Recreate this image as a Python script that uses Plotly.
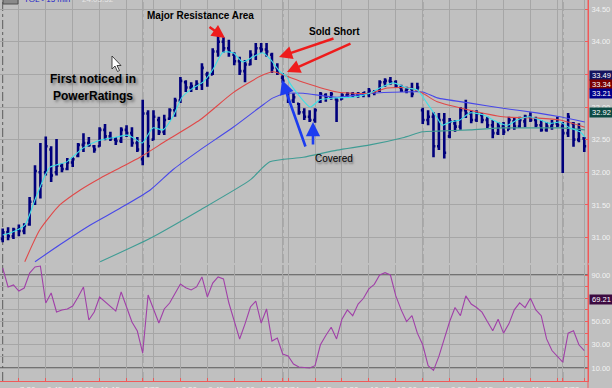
import plotly.graph_objects as go

# ---------------- data ----------------
bar_index = list(range(109))
bar_high = [31.14, 31.16, 31.15, 31.20, 31.22, 31.62, 32.11, 32.45, 32.55, 32.40,
            32.51, 32.14, 32.22, 32.23, 32.45, 32.60, 32.54, 32.42, 32.69, 32.74,
            32.62, 32.54, 32.69, 32.72, 32.69, 32.54, 33.11, 32.95, 32.95, 32.85,
            32.88, 32.98, 33.14, 33.46, 33.41, 33.38, 33.41, 33.67, 33.54, 33.90,
            34.10, 34.07, 34.03, 33.84, 33.77, 33.72, 33.87, 33.98, 33.98, 33.98,
            33.83, 33.67, 33.52, 33.29, 33.21, 33.06, 32.98, 32.95, 32.98, 33.23,
            33.21, 33.23, 33.14, 33.21, 33.23, 33.23, 33.23, 33.23, 33.29, 33.26,
            33.41, 33.44, 33.46, 33.41, 33.34, 33.31, 33.37, 33.37, 32.99, 32.95,
            32.92, 32.91, 32.91, 32.83, 32.80, 33.00, 33.11, 32.95, 32.95, 32.91,
            32.85, 32.80, 32.77, 32.77, 32.85, 32.83, 32.85, 32.88, 32.92, 32.85,
            32.80, 32.77, 32.80, 32.85, 32.77, 32.91, 32.77, 32.75, 32.54]
bar_low = [30.93, 30.96, 30.98, 31.02, 31.05, 31.18, 31.50, 31.60, 31.95, 31.85,
           31.95, 32.00, 32.03, 32.08, 32.23, 32.31, 32.39, 32.30, 32.39, 32.49,
           32.48, 32.42, 32.45, 32.54, 32.39, 32.31, 32.11, 32.23, 32.49, 32.57,
           32.57, 32.80, 32.85, 33.06, 33.23, 33.23, 33.26, 33.26, 33.31, 33.49,
           33.77, 33.83, 33.77, 33.64, 33.49, 33.38, 33.64, 33.72, 33.83, 33.77,
           33.52, 33.49, 33.37, 33.06, 33.06, 32.88, 32.80, 32.77, 32.76, 33.06,
           33.08, 33.11, 32.77, 33.11, 33.14, 33.15, 33.14, 33.15, 33.15, 33.18,
           33.23, 33.31, 33.34, 33.29, 33.23, 33.21, 33.15, 33.23, 32.74, 32.72,
           32.23, 32.34, 32.21, 32.52, 32.62, 32.65, 32.83, 32.75, 32.77, 32.75,
           32.68, 32.52, 32.57, 32.57, 32.65, 32.65, 32.68, 32.69, 32.77, 32.69,
           32.62, 32.62, 32.65, 32.69, 31.99, 32.54, 32.39, 32.46, 32.31]
bar_open = [30.98, 31.08, 31.02, 31.12, 31.10, 31.20, 31.55, 32.00, 32.00, 32.35,
            32.00, 32.10, 32.05, 32.15, 32.25, 32.42, 32.45, 32.40, 32.40, 32.65,
            32.55, 32.50, 32.48, 32.65, 32.60, 32.45, 32.20, 32.90, 32.50, 32.80,
            32.62, 32.82, 32.95, 33.10, 33.38, 33.30, 33.32, 33.35, 33.50, 33.50,
            33.85, 34.00, 33.90, 33.80, 33.70, 33.55, 33.65, 33.80, 33.90, 33.88,
            33.80, 33.60, 33.45, 33.25, 33.10, 33.05, 32.92, 32.85, 32.80, 33.08,
            33.18, 33.15, 33.12, 33.12, 33.18, 33.20, 33.18, 33.20, 33.20, 33.22,
            33.25, 33.38, 33.40, 33.38, 33.30, 33.25, 33.28, 33.25, 32.95, 32.80,
            32.85, 32.40, 32.80, 32.55, 32.75, 32.70, 32.95, 32.90, 32.80, 32.88,
            32.80, 32.72, 32.60, 32.70, 32.65, 32.78, 32.70, 32.78, 32.85, 32.80,
            32.72, 32.65, 32.70, 32.75, 32.70, 32.60, 32.75, 32.50, 32.52]
bar_close = [31.08, 31.02, 31.12, 31.10, 31.18, 31.55, 32.02, 31.80, 32.40, 31.95,
             32.10, 32.05, 32.15, 32.20, 32.42, 32.45, 32.42, 32.35, 32.65, 32.55,
             32.52, 32.48, 32.65, 32.60, 32.45, 32.35, 32.90, 32.40, 32.85, 32.62,
             32.80, 32.95, 33.10, 33.40, 33.30, 33.32, 33.35, 33.60, 33.45, 33.85,
             34.00, 33.90, 33.85, 33.70, 33.55, 33.65, 33.80, 33.90, 33.88, 33.85,
             33.60, 33.52, 33.40, 33.10, 33.15, 32.92, 32.85, 32.80, 32.95, 33.20,
             33.15, 33.20, 33.10, 33.18, 33.20, 33.18, 33.20, 33.22, 33.25, 33.24,
             33.38, 33.40, 33.38, 33.32, 33.25, 33.28, 33.20, 33.30, 32.80, 32.85,
             32.40, 32.80, 32.30, 32.78, 32.70, 32.95, 32.90, 32.80, 32.90, 32.80,
             32.72, 32.60, 32.70, 32.62, 32.80, 32.70, 32.80, 32.85, 32.80, 32.72,
             32.65, 32.70, 32.75, 32.72, 32.60, 32.85, 32.50, 32.65, 32.40]

# moving-average lines (bar position, price)
cyan_x = [0, 1.4, 4.1, 6, 7.9, 8.8, 11.9, 14.9, 18, 21.2, 23.1, 24.2, 25.9, 27.9, 29.8,
          31.6, 33.3, 35.3, 37.2, 39, 40.9, 42.8, 44.6, 46.5, 48.3, 49.6, 51.5, 52.8,
          53.3, 54.7, 57.1, 58.9, 62.1, 65.1, 68.2, 70, 72.5, 75.1, 77, 78.8, 80.7,
          81.6, 83.1, 84.9, 86.8, 89.2, 91.8, 93.7, 95.5, 97.9, 99.8, 101.6, 103.5,
          105.3, 107.2, 108.1]
cyan_y = [31.04, 31.07, 31.19, 31.58, 31.96, 32.08, 32.16, 32.37, 32.49, 32.54, 32.57,
          32.53, 32.45, 32.68, 32.65, 32.85, 33.15, 33.29, 33.38, 33.57, 33.84, 33.83,
          33.69, 33.77, 33.83, 33.74, 33.54, 33.46, 33.37, 33.21, 33.00, 33.11, 33.14,
          33.15, 33.21, 33.29, 33.37, 33.29, 33.26, 33.06, 32.83, 32.72, 32.77, 32.80,
          32.91, 32.88, 32.77, 32.72, 32.80, 32.85, 32.80, 32.75, 32.77, 32.68, 32.62,
          32.54]
red_x = [4.1, 6.9, 10.6, 14.4, 18.1, 21.8, 25.5, 30.5, 36.6, 42.8, 47.8, 50.2, 52.8,
         55.8, 62.1, 68.2, 71.4, 75.6, 78, 80.7, 86.8, 92.9, 99.2, 103.5, 108.1]
red_y = [30.63, 31.12, 31.50, 31.73, 31.91, 32.07, 32.23, 32.49, 32.80, 33.22, 33.47,
         33.54, 33.47, 33.38, 33.23, 33.21, 33.29, 33.29, 33.21, 33.08, 32.95, 32.85,
         32.83, 32.80, 32.69]
blue_x = [6, 10.6, 16.2, 21.8, 27.4, 31.6, 36.6, 42.8, 47.8, 50.2, 52.8, 55.8, 62.1,
          68.2, 74.3, 78, 80.7, 86.8, 92.9, 99.2, 103.5, 108.1]
blue_y = [30.63, 30.89, 31.19, 31.45, 31.73, 32.04, 32.34, 32.69, 33.00, 33.14, 33.21,
          33.21, 33.15, 33.21, 33.23, 33.23, 33.14, 33.06, 32.98, 32.91, 32.85, 32.77]
teal_x = [18.1, 27.4, 36.6, 45.9, 49.6, 55.8, 62.1, 68.2, 74.3, 78, 80.7, 86.8, 92.9,
          99.2, 103.5, 108.1]
teal_y = [30.63, 30.99, 31.42, 31.88, 32.16, 32.23, 32.34, 32.42, 32.53, 32.62, 32.63,
          32.65, 32.68, 32.68, 32.68, 32.65]

oscillator = [96, 79.7, 81.4, 76.2, 78.8, 91.7, 96.9, 97.7, 65.9, 74.5,
              58.2, 59.9, 60.8, 63.3, 71, 79.7, 51.3, 58.2, 71.1, 66.8,
              63, 59, 75.4, 62.5, 49.6, 41.8, 22.9, 72.8, 59.9, 48.7,
              60.8, 65.9, 74, 82.3, 79, 77.1, 79.7, 88.3, 71.1, 83.1,
              88.3, 86.6, 65.9, 50, 34.9, 48, 62.5, 67.6, 48.7, 60.8,
              33.2, 35.8, 22, 20.3, 13.4, 10.9, 10.3, 10, 12, 30,
              38, 45, 35, 52, 60, 55, 65, 70, 78, 82,
              90, 92, 90, 72, 60, 50, 55, 40, 30, 12,
              8, 20, 35, 50, 62, 55, 72, 65, 62, 58,
              50, 42, 52, 40, 48, 60, 66, 62, 70, 60,
              55, 35, 25, 20, 15, 40, 42, 30, 25]

tick_idx = [3, 8, 13, 18, 23, 26, 28, 33, 38, 43, 48, 52, 53, 58, 63, 68, 73, 78,
            83, 88, 93, 98, 103, 104, 108]
tick_txt = ["7:30", "8:45", "10:00", "11:15", "", "2/23", "", "8:30", "9:45", "11:00",
            "12:15", "2/24", "", "8:15", "9:30", "10:45", "12:00", "2/27", "8:00",
            "9:15", "10:30", "11:45", "", "2/28", ""]
day_start_idx = [0, 26, 52, 78, 104]

price_ticks = [31.0, 31.5, 32.0, 32.5, 33.0, 33.5, 34.0, 34.5]
osc_ticks = [10, 20, 30, 40, 50, 60, 70, 80, 90]
osc_tick_txt = ["10.00", "", "30.00", "", "50.00", "", "70.00", "", "90.00"]

value_tags = [33.49, 33.34, 33.21, 32.92]
value_tag_colors = ["#14145e", "#7a0000", "#00008a", "#0c4a44"]
osc_tag = 69.21

# ---------------- figure ----------------
W, H = 612, 388
ML, MR, MT, MB = 0, 24, 0, 7
PW, PH = W - ML - MR, H - MT - MB
BG = "#c0c0c0"
GRID = "#a6a6a6"
AXRED = "#f05a5a"
LBL = "#f2f2f2"


def PX(x):
    return x / PW


def PY(y):
    return 1 - y / PH


fig = go.Figure()
fig.add_trace(go.Ohlc(x=bar_index, open=bar_open, high=bar_high, low=bar_low, close=bar_close,
                      increasing=dict(line=dict(color="#00007c", width=2.6)),
                      decreasing=dict(line=dict(color="#00007c", width=2.6)),
                      tickwidth=0.35, xaxis="x", yaxis="y", showlegend=False, hoverinfo="skip"))
for xs, ys, col in [(teal_x, teal_y, "#3f9c94"), (blue_x, blue_y, "#4848e8"),
                    (red_x, red_y, "#e04848"), (cyan_x, cyan_y, "#3ee0e6")]:
    fig.add_trace(go.Scatter(x=xs, y=ys, mode="lines", line=dict(color=col, width=1.1, shape="spline", smoothing=0.6),
                             xaxis="x", yaxis="y", showlegend=False, hoverinfo="skip"))
fig.add_trace(go.Scatter(x=bar_index, y=oscillator, mode="lines", line=dict(color="#a040a8", width=1.1),
                         xaxis="x2", yaxis="y2", showlegend=False, hoverinfo="skip"))

xr = [-0.5, 108.69]
common_x = dict(range=xr, tickvals=tick_idx, showgrid=True, gridcolor=GRID, gridwidth=1,
                zeroline=False, fixedrange=True, automargin=False, tickangle=0)
price_bot_px = 263
osc_top_px = 265

fig.update_layout(
    width=W, height=H, margin=dict(l=ML, r=MR, t=MT, b=MB), autosize=False,
    paper_bgcolor=BG, plot_bgcolor=BG, showlegend=False,
    font=dict(family="Liberation Sans, Arial", size=8, color=LBL),
    xaxis=dict(domain=[0, 1], anchor="y", showticklabels=False, ticks="",
               rangeslider=dict(visible=False), **common_x),
    xaxis2=dict(domain=[0, 1], anchor="y2", ticktext=tick_txt, ticklabelposition="outside right",
                tickfont=dict(size=8, color=LBL), ticks="inside", ticklen=3, tickcolor=AXRED,
                showline=True, linecolor=AXRED, linewidth=1, matches="x", **common_x),
    yaxis=dict(domain=[1 - price_bot_px / PH, 1], anchor="x", side="right",
               range=[30.611, 34.639], tickvals=price_ticks, tickformat=".2f", automargin=False,
               showgrid=True, gridcolor=GRID, zeroline=False, ticks="inside", ticklen=3,
               ticklabelstandoff=1, fixedrange=True,
               tickcolor=AXRED, showline=True, linecolor=AXRED, tickfont=dict(size=7.5, color=LBL)),
    yaxis2=dict(domain=[0, 1 - osc_top_px / PH], anchor="x2", side="right", automargin=False,
                range=[-1.18, 98.6], tickvals=osc_ticks, ticktext=osc_tick_txt,
                showgrid=True, gridcolor=GRID, zeroline=False, ticks="inside", ticklen=3,
                ticklabelstandoff=1, fixedrange=True,
                tickcolor=AXRED, showline=True, linecolor=AXRED, tickfont=dict(size=7.5, color=LBL)),
)

shapes = []
# day separators
for d in day_start_idx:
    for yr in ("y domain", "y2 domain"):
        shapes.append(dict(type="line", xref="x", yref=yr, x0=d, x1=d, y0=0, y1=1,
                           line=dict(color="#5c5c5c", width=1, dash="dashdot"), layer="below"))
# oscillator bounds
for lv in (90, 10):
    shapes.append(dict(type="line", xref="paper", yref="y2", x0=0, x1=1, y0=lv, y1=lv,
                       line=dict(color="#585858", width=1.6), layer="below"))
# right axis line running to the bottom
shapes.append(dict(type="line", xref="paper", yref="paper", x0=1, x1=1, y0=-MB / PH, y1=1,
                   line=dict(color=AXRED, width=1)))
# header icon
shapes.append(dict(type="rect", xref="paper", yref="paper", x0=PX(3), x1=PX(18), y0=PY(4), y1=PY(-3),
                   line=dict(color="#505050", width=1), fillcolor="#8a8a8a"))
# mouse cursor
shapes.append(dict(type="path", xref="paper", yref="paper",
                   path="M {} {} L {} {} L {} {} L {} {} L {} {} L {} {} L {} {} Z".format(
                       PX(112), PY(56), PX(112), PY(69), PX(115), PY(66), PX(117.5), PY(71.5),
                       PX(119.5), PY(70.5), PX(117), PY(65.5), PX(121), PY(65.5)),
                   line=dict(color="#202020", width=0.8), fillcolor="#ffffff"))
fig.update_layout(shapes=shapes)

ann = []


def text(x, y, s, size=11, bold=True, color="#000000", shadow=None):
    f = dict(family="Liberation Sans, Arial", size=size, color=color)
    if shadow:
        f["shadow"] = shadow
    ann.append(dict(xref="paper", yref="paper", x=PX(x), y=PY(y), text=("<b>%s</b>" % s) if bold else s,
                    showarrow=False, xanchor="center", yanchor="middle", font=f))


def arrow(tx, ty, hx, hy, color, width=2.4):
    ann.append(dict(xref="paper", yref="paper", x=PX(hx), y=PY(hy), ax=tx - hx, ay=ty - hy,
                    text="", showarrow=True, arrowhead=2, arrowsize=1.1, arrowwidth=width,
                    arrowcolor=color))


text(200, 15, "Major Resistance Area", size=10)
text(334, 31, "Sold Short", size=10)
text(93, 79, "First noticed in", size=12, shadow="2px 2px 3px #6e6e6e")
text(93, 96, "PowerRatings", size=12, shadow="2px 2px 3px #6e6e6e")
text(334, 159, "Covered", size=10, bold=False, shadow="1px 2px 2px #6e6e6e")
arrow(208, 26, 225, 38, "#ee1c1c")
arrow(335, 38, 279, 57, "#ee1c1c")
arrow(352, 43, 287, 72, "#ee1c1c")
arrow(306, 148, 282, 80, "#1c3cf0", 2.6)
arrow(313, 146, 313, 122, "#1c3cf0", 2.6)

# header
ann.append(dict(xref="paper", yref="paper", x=PX(22), y=1, yshift=1, xanchor="left", yanchor="middle",
                text="TOL - 15 min", showarrow=False, font=dict(size=8, color="#2020c8")))
ann.append(dict(xref="paper", yref="paper", x=PX(80), y=1, yshift=1, xanchor="left", yanchor="middle",
                text="24.03.52", showarrow=False, font=dict(size=8, color="#e6e6e6")))

# value tags on the right axis
for v, c in zip(value_tags, value_tag_colors):
    ann.append(dict(xref="paper", yref="y", x=1, y=v, xanchor="left", yanchor="middle", xshift=1,
                    text="%.2f" % v, showarrow=False, bgcolor=c, width=22, height=8, borderpad=0.5,
                    font=dict(size=7.5, color="#ffffff")))
ann.append(dict(xref="paper", yref="y2", x=1, y=osc_tag, xanchor="left", yanchor="middle", xshift=1,
                text="%.2f" % osc_tag, showarrow=False, bgcolor="#3c0a40", width=22, height=8,
                borderpad=0.5, font=dict(size=7.5, color="#ffffff")))
fig.update_layout(annotations=ann)

fig.write_html("out.html", config={"displayModeBar": False, "staticPlot": True},
               post_script="document.body.style.margin='0px';document.body.style.overflow='hidden';")
